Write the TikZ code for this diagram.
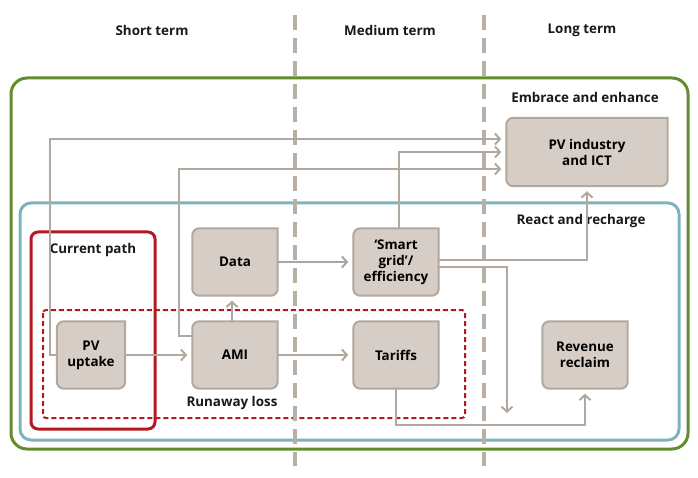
\documentclass[tikz,border=0pt]{standalone}
\usepackage{fontspec}
\setmainfont{Open Sans}
\usetikzlibrary{arrows.meta,backgrounds,positioning,calc}

\definecolor{embracegreen}{RGB}{98,140,48}
\definecolor{reactteal}{RGB}{124,180,190}
\definecolor{pathred}{RGB}{181,24,34}
\definecolor{stagefill}{RGB}{214,205,198}
\definecolor{stageedge}{RGB}{178,168,158}
\definecolor{termgrey}{RGB}{184,175,166}

\tikzset{
  stage/.style={minimum width=85pt, minimum height=67pt, align=center, inner sep=0pt},
  stagebg/.style={fill=stagefill, draw=stageedge, line width=2pt, rounded corners=7pt, line cap=rect},
  flow/.style={draw=stageedge, line width=2pt, shorten >=5pt, -{Straight Barb[length=5pt,width=11pt,line width=2pt]}},
  lbl/.style={text=black!90},
}
\newcommand\stageshape[1]{\draw[stagebg] (#1.north east) -- (#1.north west) -- (#1.south west) -- (#1.south east) -- (#1.north east);}

\begin{document}
\begin{tikzpicture}[x=1pt, y=-1pt, font=\fontsize{13.4}{16}\selectfont\bfseries]
    \useasboundingbox (0,0) rectangle (698,478);

    % time headers
    \node[lbl] (shortlbl) at (152,30) {Short term};
    \node[lbl] (mediumlbl) at (390,30) {Medium term};
    \node[lbl] (longlbl) at (582,30) {Long term};

    % outer frames
    \draw[embracegreen, line width=3pt, rounded corners=16pt] (11,78) rectangle (688,449);
    \node[lbl] (embracelbl) at (585,97) {Embrace and enhance};
    \draw[reactteal, line width=3pt, rounded corners=11pt] (20,203) rectangle (679,440);
    \node[lbl] (reactlbl) at (581,221) {React and recharge};
    \draw[pathred, line width=3pt, rounded corners=7pt] (31,232) rectangle (155,429);
    \node[lbl] (currentlbl) at (93,250) {Current path};
    \draw[pathred, line width=2pt, dash pattern=on 5pt off 3pt, rounded corners=3pt] (43,310) rectangle (465,418);
    \node[lbl] (runawaylbl) at (232,403) {Runaway loss};

    % term dividers
    \draw[termgrey, line width=4pt, dash pattern=on 15pt off 8pt] (295,15) -- (295,466);
    \draw[termgrey, line width=4pt, dash pattern=on 15pt off 8pt] (484,15) -- (484,466);

    % stages
    \node[stage, minimum width=68pt] (uptake) at (91,355) {PV\\uptake};
    \node[stage] (ami) at (235,355) {AMI};
    \node[stage] (data) at (235,262) {Data};
    \node[stage] (grid) at (396,262) {‘Smart\\grid’/\\efficiency};
    \node[stage] (tariffs) at (396,355) {Tariffs};
    \node[stage] (revenue) at (585,355) {Revenue\\reclaim};
    \node[stage, minimum width=161pt, minimum height=68pt] (industry) at (587,152) {PV industry\\and ICT};

    \begin{scope}[on background layer]
        \stageshape{uptake}
        \stageshape{ami}
        \stageshape{data}
        \stageshape{grid}
        \stageshape{tariffs}
        \stageshape{revenue}
        \stageshape{industry}
    \end{scope}

    \coordinate (drop) at (507,418);

    % links
    \draw[flow] (uptake.west) -- ++(-7,0) |- ([yshift=13pt]industry.west);
    \draw[flow] ([yshift=19pt]ami.west) -- ++(-13,0) |- ([yshift=-17pt]industry.west);
    \draw[flow] ([xshift=3pt]grid.north) |- (industry.west);
    \draw[flow] ([yshift=2pt]grid.east) -| (industry.south);
    \draw[flow] ([yshift=-5pt]grid.east) -| (drop);
    \draw[flow] (tariffs.south) -- ++(0,36) -| (revenue.south);
    \draw[flow] (uptake) -- (ami);
    \draw[flow] (ami) -- (tariffs);
    \draw[flow] ([xshift=-3pt]ami.north) -- ([xshift=-3pt]data.south);
    \draw[flow, draw=black!35] (data) -- (grid);
\end{tikzpicture}
\end{document}
